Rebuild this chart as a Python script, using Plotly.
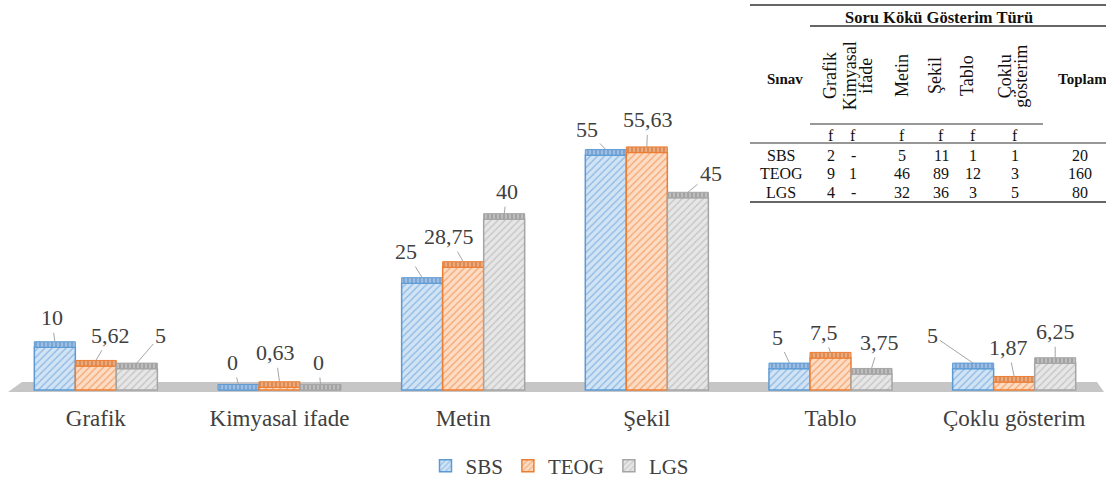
import plotly.graph_objects as go

# ---------------- data ----------------
CATEGORIES = ["Grafik", "Kimyasal ifade", "Metin", "Şekil", "Tablo", "Çoklu gösterim"]
SERIES = ["SBS", "TEOG", "LGS"]
SBS = [10, 0, 25, 55, 5, 5]
TEOG = [5.62, 0.63, 28.75, 55.63, 7.5, 1.87]
LGS = [5, 0, 40, 45, 3.75, 6.25]

TABLE_TITLE = "Soru Kökü Gösterim Türü"
TABLE_ROW_HEADER = "Sınav"
TABLE_TOTAL_HEADER = "Toplam"
TABLE_COLUMNS = ["Grafik", "Kimyasal<br>ifade", "Metin", "Şekil", "Tablo", "Çoklu<br>gösterim"]
TABLE_SUBHEADER = ["f", "f", "f", "f", "f", "f"]
TABLE_ROWS = ["SBS", "TEOG", "LGS"]
TABLE_SBS = ["2", "-", "5", "11", "1", "1"]
TABLE_TEOG = ["9", "1", "46", "89", "12", "3"]
TABLE_LGS = ["4", "-", "32", "36", "3", "5"]
TABLE_TOTALS = ["20", "160", "80"]

# ---------------- styles / layout ----------------
W, H = 1106, 481
ML, MR, MT, MB = 4, 0, 0, 85
PW, PH = W - ML - MR, H - MT - MB
Y_MIN, Y_MAX = -1.405, 91.33
BARGAP = 0.33
BAR_W = (1 - BARGAP) / 3
CAP = 1.3
SERIF = "Times New Roman, Liberation Serif, Tinos, serif"
TXT = "#404040"

STYLE = {
    "SBS": dict(line="#5b9bd5", bg="#d2e3f4", fg="#8ab8e6", cap_bg="#7aa5d4", cap_fg="#b3cfec"),
    "TEOG": dict(line="#ed7d31", bg="#fcdcc4", fg="#f5a56f", cap_bg="#de8c55", cap_fg="#f3bf98"),
    "LGS": dict(line="#a5a5a5", bg="#e6e6e6", fg="#c3c3c3", cap_bg="#a3a3a3", cap_fg="#cfcfcf"),
}

# (ax, ay) pixel offsets of value labels from bar tops
LABEL_OFFSETS = {
    "SBS": [(-3, -24), (-6, -22), (-16, -26), (-19, -20), (-12, -26), (-41, -28)],
    "TEOG": [(15, -25), (-4, -29), (-14, -25), (1, -27), (-7, -20), (-6, -29)],
    "LGS": [(24, -28), (-2, -22), (3, -22), (23, -19), (8, -26), (0, -26)],
}

VALUES = {"SBS": SBS, "TEOG": TEOG, "LGS": LGS}


def px2x(px):
    return (px - ML) / PW


def py2y(py):
    return (PH + MT - py) / PH


def py2data(py):
    zero_px = MT + PH - (0 - Y_MIN) * PH / (Y_MAX - Y_MIN)
    return (zero_px - py) * (Y_MAX - Y_MIN) / PH


def fmt(v):
    return f"{v:g}".replace(".", ",")


fig = go.Figure()

for s_idx, name in enumerate(SERIES):
    st = STYLE[name]
    vals = VALUES[name]
    fig.add_trace(go.Bar(
        name=name, x=CATEGORIES, y=vals, offsetgroup=str(s_idx),
        marker=dict(color=st["bg"], line=dict(color=st["line"], width=1.5),
                    pattern=dict(shape="/", fgcolor=st["fg"], bgcolor=st["bg"],
                                 size=5, solidity=0.25, fillmode="replace")),
        hoverinfo="skip",
    ))
    fig.add_trace(go.Bar(
        name=name + " top", x=CATEGORIES, y=[CAP] * len(vals), base=vals,
        offsetgroup=str(s_idx), showlegend=False,
        marker=dict(color=st["cap_bg"], line=dict(color=st["line"], width=1),
                    pattern=dict(shape="|", fgcolor=st["cap_fg"], bgcolor=st["cap_bg"],
                                 size=4, solidity=0.3, fillmode="replace")),
        hoverinfo="skip",
    ))

annotations = []
for s_idx, name in enumerate(SERIES):
    for c_idx, v in enumerate(VALUES[name]):
        ax, ay = LABEL_OFFSETS[name][c_idx]
        annotations.append(dict(
            x=c_idx + (s_idx - 1) * BAR_W, y=v + CAP, xref="x", yref="y",
            text=fmt(v), showarrow=True, ax=ax, ay=ay, arrowhead=0,
            arrowwidth=1, arrowcolor="#a6a6a6", standoff=0, startstandoff=1,
            font=dict(family=SERIF, size=22, color=TXT),
        ))

# ---------- table (drawn with text + rules) ----------
def tnote(text, px, py, size=16, bold=False, angle=0):
    annotations.append(dict(
        x=px2x(px), y=py2y(py), xref="paper", yref="paper", showarrow=False,
        text=f"<b>{text}</b>" if bold else text, textangle=angle,
        xanchor="center", yanchor="middle",
        font=dict(family=SERIF, size=size, color="#111111"),
    ))

HEAD_X = [830, 858, 902, 935, 967, 1013]
COL_X = [831, 853, 902, 941, 973, 1015]
tnote(TABLE_TITLE, 939, 17, size=16.5, bold=True)
tnote(TABLE_ROW_HEADER, 785, 79, size=15, bold=True)
tnote(TABLE_TOTAL_HEADER, 1082, 79, size=15, bold=True)
for hx, col in zip(HEAD_X, TABLE_COLUMNS):
    lines = col.split("<br>")
    n = len(lines)
    for k, line in enumerate(lines):
        tnote(line, hx + (k - (n - 1) / 2) * 15.5, 76, size=18, angle=-90)
for cx, f in zip(COL_X, TABLE_SUBHEADER):
    tnote(f, cx, 135, size=16)
for r_idx, (rname, rvals, tot) in enumerate(zip(TABLE_ROWS, [TABLE_SBS, TABLE_TEOG, TABLE_LGS], TABLE_TOTALS)):
    ry = 155 + r_idx * 18.5
    tnote(rname, 781, ry)
    for cx, val in zip(COL_X, rvals):
        tnote(val, cx, ry)
    tnote(tot, 1080, ry)

shapes = []
for (x0, x1, yy, wd) in [(750, 1106, 5, 1.6), (810, 1106, 26, 1.6), (810, 1043, 124, 1.2),
                         (750, 1106, 143, 1.2), (750, 1106, 202, 1.6)]:
    shapes.append(dict(type="line", xref="paper", yref="paper",
                       x0=px2x(x0), x1=px2x(x1), y0=py2y(yy), y1=py2y(yy),
                       line=dict(color="#333333", width=wd)))

# floor of the 3-D chart
fy_top, fy_bot = py2data(382), py2data(392)
shapes.append(dict(
    type="path", xref="paper", yref="y", layer="below",
    path=(f"M {px2x(8)} {fy_bot} L {px2x(22)} {fy_top} L {px2x(1097)} {fy_top} "
          f"L {px2x(1104)} {fy_bot} Z"),
    fillcolor="#c6c6c6", line=dict(width=0),
))

fig.update_layout(
    width=W, height=H, margin=dict(l=ML, r=MR, t=MT, b=MB, autoexpand=False),
    paper_bgcolor="white", plot_bgcolor="white",
    barmode="group", bargap=BARGAP, bargroupgap=0,
    xaxis=dict(type="category", range=[-0.5, 5.5], showgrid=False, showline=False,
               zeroline=False, ticks="", ticklabelstandoff=6, automargin=False,
               tickfont=dict(family=SERIF, size=23, color=TXT)),
    yaxis=dict(range=[Y_MIN, Y_MAX], visible=False, showgrid=False, zeroline=False),
    legend=dict(orientation="h", x=px2x(560), y=py2y(466), xanchor="center", yanchor="middle",
                font=dict(family=SERIF, size=21, color=TXT), itemwidth=30,
                bgcolor="rgba(0,0,0,0)"),
    annotations=annotations, shapes=shapes,
    showlegend=True,
)

fig.write_html("out.html")
